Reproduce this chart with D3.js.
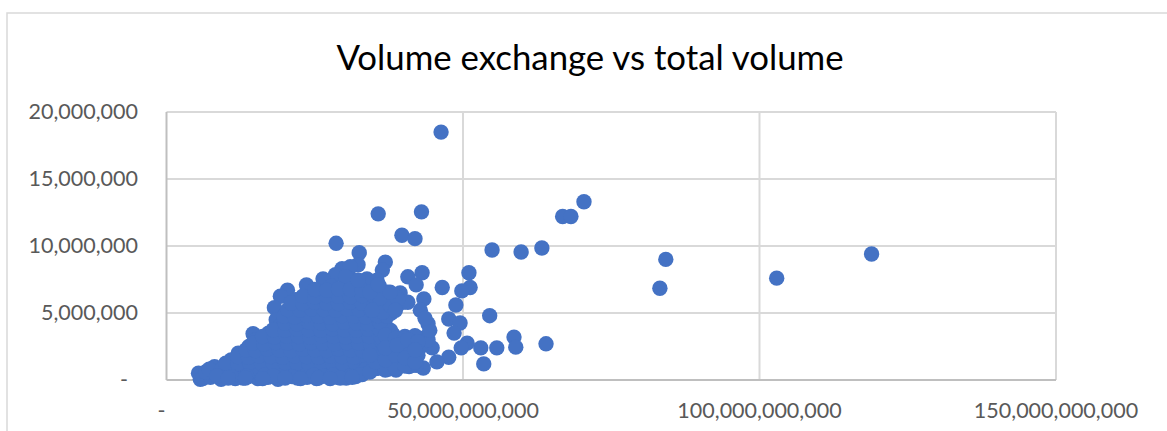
<!DOCTYPE html>
<html>
<head>
<meta charset="utf-8">
<script src="https://cdn.jsdelivr.net/npm/d3@7"></script>
<style>
  html, body { margin: 0; padding: 0; background: #fff; overflow: hidden; }
  text { font-family: Lato, "Open Sans", sans-serif; }
</style>
</head>
<body>
<script>
const chartTitle = "Volume exchange vs total volume";
const xTicks = [0, 50e9, 100e9, 150e9];
const yTicks = [0, 5e6, 10e6, 15e6, 20e6];

// Total volume per observation, in billions.
const totalVolumeBn = [
  46.3,70.4,66.8,68.2,35.7,43.0,28.6,39.7,41.9,32.5,36.9,36.4,54.9,59.8,63.3,84.2,83.2,102.9,118.9,
  40.7,43.1,42.1,46.5,51.0,51.2,49.8,48.8,43.4,42.8,47.6,49.5,48.5,44.1,54.5,58.6,58.9,64.0,55.7,53.0,53.5,
  50.7,49.7,47.6,45.6,43.3,44.8,39.9,36.5,32.3,29.6,31.0,28.5,26.4,23.6,20.4,19.2,18.2,18.5,14.6,17.5,13.8,10.8,7.9,5.4,5.7,
  33.8,35.5,39.4,40.7,43.6,41.1,
  6.1,7.4,9.2,10.3,11.6,12.9,14.2,15.4,17.1,18.8,20.6,22.1,23.7,25.3,27.2,28.8,30.3,31.9,
  6.6,8.3,10.6,12.2,14.4,16.1,17.9,20.2,21.6,24.1,25.9,28.2,30.4,31.6,33.4,
  8.1,9.6,11.2,13.1,15.2,16.8,19.1,21.2,22.8,25.2,27.1,29.2,30.9,33.2,35.1,36.8,39.2,40.9,42.1,
  10.9,13.2,14.6,16.4,18.6,20.4,22.7,24.6,26.3,28.6,30.7,32.4,34.6,36.3,38.6,40.4,41.8,
  12.1,14.1,15.9,18.2,19.8,22.2,23.9,26.2,27.8,30.1,31.8,34.2,35.9,38.1,39.8,42.2,
  13.9,15.6,17.4,19.6,21.3,23.4,25.6,27.4,29.6,31.3,33.6,35.4,37.6,39.4,41.4,42.9,
  15.1,16.9,19.2,20.8,23.2,24.9,27.2,28.9,31.1,32.9,35.2,36.9,39.1,40.8,43.1,
  17.2,18.9,21.1,23.1,24.8,27.1,29.1,30.8,33.1,35.1,36.8,38.2,
  19.1,21.2,22.9,25.1,26.9,29.2,30.9,33.2,34.9,37.1,
  19.8,21.1,23.2,25.2,26.8,29.1,31.2,32.8,35.1,36.4,
  20.2,22.1,24.1,25.9,28.1,29.9,32.1,34.1,35.8,37.9,
  22.2,23.9,26.1,27.9,30.2,31.9,34.2,35.9,38.3,
  21.8,24.2,25.8,28.2,30.1,32.2,33.9,36.1,38.8,
  25.1,27.2,28.9,31.1,32.9,35.1,37.2,
  27.8,30.1,31.9,34.1,35.9,
  31.2,33.2,30.2,
  7.2,9.4,11.3,13.3,15.3,17.2,19.4,21.3,23.3,25.4,27.4,29.4,31.3,33.3,35.3,37.3,38.7,
  10.0,12.0,14.0,16.0,18.0,20.0,22.0,24.0,26.0,28.0,29.8,31.8,33.8,35.8,37.8,39.8,41.6,
  12.0,13.8,15.6,17.6,19.6,21.6,23.6,25.6,27.6,29.6,31.6,33.6,35.6,37.6,39.6,41.4,
  13.4,15.0,17.0,19.0,21.0,23.0,25.0,27.0,29.0,31.0,33.0,35.0,37.0,39.0,41.0,
  14.6,16.4,18.4,20.4,22.4,24.4,26.4,28.4,30.4,32.4,34.4,36.4,38.4,40.4,42.4,
  16.2,18.2,20.2,22.2,24.2,26.2,28.2,30.2,32.2,34.2,36.2,38.2,40.2,42.0,
  18.0,20.0,22.0,24.0,26.0,28.0,30.0,32.0,34.0,36.0,37.8,
  20.0,22.0,24.0,26.0,28.0,30.0,32.0,34.0,36.0,
  19.8,21.6,23.6,25.6,27.6,29.6,31.6,33.6,35.6,37.2,
  20.5,22.5,24.5,26.5,28.5,30.5,32.5,34.5,36.2,
  21.0,23.0,25.0,27.0,29.0,31.0,33.0,35.0,37.0,
  23.0,25.0,27.0,29.0,31.0,33.0,35.0,37.2,
  25.0,27.0,29.0,31.0,33.0,35.4,
  36.5,37.7,39.0,36.0,34.3,37.7,35.7,38.6,34.7,32.3,
  36.9,38.6,40.2,41.9,42.8,41.1,39.4,37.7,41.4,39.4,
  37.7,35.7,33.5,35.7,39.0,40.7,42.4,44.1,44.4,43.6,
  8.5,11.0,13.5,16.5,18.0,21.2,24.8,26.5,28.0,31.0,33.0,
  32.7,34.3,36.9,38.6,40.2,35.2,36.9,38.6,40.2,41.9,
  36.9,38.9,40.7,42.4,41.9,34.3,29.3,10.4,13.3,16.2,
  20.0,22.6,25.6,27.6,31.3
];

// Exchange volume per observation, in millions.
const exchangeVolumeMn = [
  18.5,13.3,12.2,12.2,12.4,12.55,10.2,10.8,10.55,9.5,8.8,8.2,9.7,9.55,9.85,9.0,6.85,7.6,9.4,
  7.7,8.0,7.1,6.9,8.0,6.9,6.65,5.6,6.05,5.2,4.55,4.25,3.5,4.2,4.8,3.2,2.45,2.7,2.4,2.4,1.2,
  2.75,2.4,1.7,1.35,0.9,2.4,5.8,5.4,8.6,8.3,8.45,7.85,7.55,7.1,6.7,6.25,5.4,4.5,3.45,3.35,2.4,1.35,0.8,0.5,0.05,
  7.55,7.45,6.5,5.8,3.1,1.85,
  0.1,0.2,0.05,0.25,0.1,0.15,0.3,0.1,0.2,0.05,0.3,0.15,0.2,0.1,0.3,0.2,0.15,0.25,
  0.6,0.5,0.7,0.55,0.65,0.6,0.5,0.7,0.6,0.55,0.7,0.5,0.65,0.6,0.7,
  1.0,0.95,1.1,1.0,1.05,0.9,1.1,1.0,0.95,1.1,1.0,0.9,1.05,1.0,1.1,0.95,1.05,1.0,1.1,
  1.5,1.55,1.4,1.6,1.5,1.45,1.6,1.5,1.4,1.55,1.5,1.6,1.45,1.5,1.6,1.4,1.5,
  2.0,2.05,1.9,2.1,2.0,1.95,2.1,2.0,1.9,2.05,2.0,2.1,1.95,2.0,2.1,2.0,
  2.5,2.55,2.45,2.6,2.5,2.4,2.55,2.5,2.6,2.45,2.5,2.55,2.4,2.5,2.6,2.5,
  3.0,3.05,2.95,3.1,3.0,2.9,3.05,3.0,3.1,2.95,3.0,3.05,2.9,3.0,3.1,
  3.5,3.55,3.45,3.6,3.5,3.4,3.55,3.5,3.6,3.45,3.5,3.4,
  4.0,4.05,3.95,4.1,4.0,3.9,4.05,4.0,4.1,3.95,
  4.5,4.55,4.45,4.6,4.5,4.4,4.55,4.5,4.6,4.5,
  5.0,5.05,4.95,5.1,5.0,4.9,5.05,5.0,5.1,5.0,
  5.5,5.55,5.45,5.6,5.5,5.4,5.55,5.5,5.3,
  6.0,6.05,5.95,6.1,6.0,5.9,6.05,6.0,6.2,
  6.5,6.55,6.45,6.6,6.5,6.4,6.55,
  7.0,7.05,6.95,7.1,7.0,
  7.5,7.4,7.7,
  0.8,0.85,0.75,0.8,0.9,0.75,0.8,0.85,0.8,0.75,0.85,0.8,0.75,0.8,0.85,0.8,0.75,
  1.25,1.2,1.3,1.25,1.2,1.3,1.25,1.2,1.3,1.25,1.2,1.3,1.25,1.2,1.3,1.25,1.2,
  1.75,1.7,1.8,1.75,1.7,1.8,1.75,1.7,1.8,1.75,1.7,1.8,1.75,1.7,1.8,1.75,
  2.25,2.2,2.3,2.25,2.2,2.3,2.25,2.2,2.3,2.25,2.2,2.3,2.25,2.2,2.3,
  2.75,2.7,2.8,2.75,2.7,2.8,2.75,2.7,2.8,2.75,2.7,2.8,2.75,2.7,2.8,
  3.25,3.2,3.3,3.25,3.2,3.3,3.25,3.2,3.3,3.25,3.2,3.3,3.25,3.2,
  3.75,3.7,3.8,3.75,3.7,3.8,3.75,3.7,3.8,3.75,3.7,
  4.25,4.2,4.3,4.25,4.2,4.3,4.25,4.2,4.3,
  4.75,4.7,4.8,4.75,4.7,4.8,4.75,4.7,4.8,4.75,
  5.25,5.2,5.3,5.25,5.2,5.3,5.25,5.2,5.3,
  5.75,5.7,5.8,5.75,5.7,5.8,5.75,5.7,5.8,
  6.25,6.2,6.3,6.25,6.2,6.3,6.25,6.2,
  6.75,6.7,6.8,6.75,6.7,6.8,
  5.05,5.6,6.0,6.1,6.55,6.55,7.1,5.2,5.2,7.45,
  3.35,3.1,3.1,3.3,2.6,2.6,2.25,1.85,1.1,1.1,
  0.9,0.9,0.75,1.65,1.65,2.1,1.85,3.0,3.7,4.6,
  0.3,0.25,0.3,0.35,0.3,0.25,0.35,0.3,0.35,0.3,0.4,
  0.4,0.6,0.75,0.9,1.05,1.35,1.5,1.85,1.65,1.35,
  2.4,2.6,3.0,2.85,2.25,1.85,0.15,0.15,0.15,0.1,
  0.15,0.1,0.15,0.1,0.2
];

const width = 1167, height = 431;
const plot = { left: 166.5, right: 1056, top: 112, bottom: 380 };
const dotRadius = 7.7;

const x = d3.scaleLinear().domain([0, 150e9]).range([plot.left, plot.right]);
const y = d3.scaleLinear().domain([0, 20e6]).range([plot.bottom, plot.top]);
const comma = d3.format(",");

const svg = d3.select("body").append("svg")
  .attr("width", width).attr("height", height)
  .style("display", "block");

// Chart frame, running off the bottom and right of the page.
svg.append("path")
  .attr("d", `M7,${height}V13H${width}`)
  .attr("fill", "none").attr("stroke", "#d9d9d9").attr("stroke-width", 1.5);

svg.append("text")
  .attr("x", 590).attr("y", 70)
  .attr("text-anchor", "middle")
  .attr("font-size", 34.8)
  .attr("fill", "#000")
  .text(chartTitle);

// Gridlines
svg.append("g").selectAll("line").data(yTicks.filter(d => d > 0)).join("line")
  .attr("x1", plot.left).attr("x2", plot.right)
  .attr("y1", d => y(d)).attr("y2", d => y(d))
  .attr("stroke", "#d9d9d9").attr("stroke-width", 2);
svg.append("g").selectAll("line").data(xTicks.filter(d => d > 0)).join("line")
  .attr("y1", plot.top).attr("y2", plot.bottom)
  .attr("x1", d => x(d)).attr("x2", d => x(d))
  .attr("stroke", "#d9d9d9").attr("stroke-width", 2);

// Axis lines
const axisLines = svg.append("g").attr("stroke", "#bfbfbf").attr("stroke-width", 2);
axisLines.append("line").attr("x1", plot.left).attr("x2", plot.left).attr("y1", plot.top).attr("y2", plot.bottom);
axisLines.append("line").attr("x1", plot.left).attr("x2", plot.right).attr("y1", plot.bottom).attr("y2", plot.bottom);

// Tick labels; zero is shown as a dash in the accounting number format.
svg.append("g").selectAll("text").data(yTicks).join("text")
  .attr("x", d => d === 0 ? 128 : 138)
  .attr("y", d => y(d) + 7)
  .attr("text-anchor", "end")
  .attr("font-size", 21.5).attr("fill", "#595959")
  .text(d => d === 0 ? "-" : comma(d));
svg.append("g").selectAll("text").data(xTicks).join("text")
  .attr("x", d => d === 0 ? x(d) - 5 : x(d))
  .attr("y", 418)
  .attr("text-anchor", "middle")
  .attr("font-size", 21.5).attr("fill", "#595959")
  .text(d => d === 0 ? "-" : comma(d));

// Scatter points
svg.append("g").selectAll("circle").data(d3.zip(totalVolumeBn, exchangeVolumeMn)).join("circle")
  .attr("cx", d => x(d[0] * 1e9))
  .attr("cy", d => y(d[1] * 1e6))
  .attr("r", dotRadius)
  .attr("fill", "#4472c4");
</script>
</body>
</html>
